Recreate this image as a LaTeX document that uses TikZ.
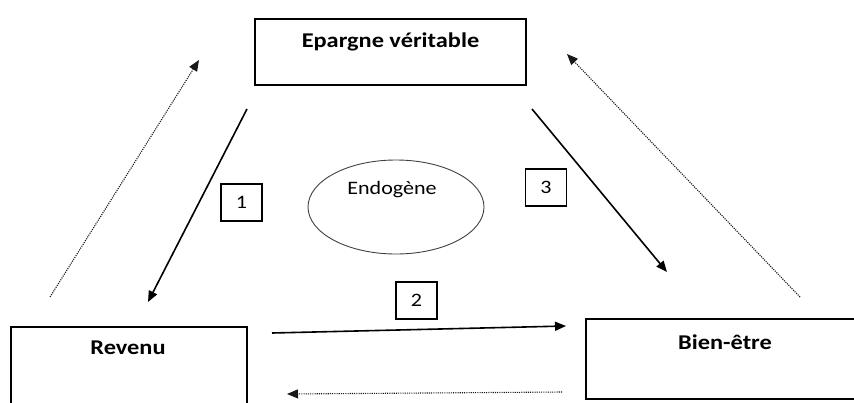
\documentclass[tikz,border=0pt]{standalone}
\usepackage{fontspec}
\setmainfont{Carlito}[FakeStretch=1.16]
\usetikzlibrary{arrows.meta,shapes.geometric}
\newlength{\du}
\setlength{\du}{1pt}

\tikzset{
  bloc/.style={draw, line width=1.8\du, inner sep=0pt},
  numero/.style={draw, line width=1.3\du, minimum width=41\du, minimum height=37\du,
    inner sep=0pt, font=\fontsize{19}{21}\selectfont},
  titre/.style={font=\bfseries\fontsize{21}{23}\selectfont, inner sep=0pt},
  fleche/.style={line width=1.6\du, -{Triangle[length=11pt,width=9pt]}},
  retour/.style={line width=1.1\du, dash pattern=on 1.1pt off 1.1pt, draw=black!90,
    -{Triangle[length=11pt,width=9pt]}},
}

\begin{document}
\begin{tikzpicture}[x=1\du, y=-1\du]
\useasboundingbox (0,0) rectangle (854,402);
% boites
\node[bloc, minimum width=271\du, minimum height=66\du] (epargne) at (390.5,52) {};
\node[titre] (epargnetxt) at (390.5,42) {Epargne véritable};
\node[bloc, minimum width=236\du, minimum height=95\du] (revenu) at (129,374.5) {};
\node[titre] (revenutxt) at (128,348) {Revenu};
\node[bloc, minimum width=284\du, minimum height=80\du] (bienetre) at (728,359) {};
\node[titre] (bienetretxt) at (725,342) {Bien-être};
% ellipse
\node[ellipse, draw=black!75, line width=0.9\du, minimum width=176\du, minimum height=94\du,
  inner sep=0pt] (endo) at (396,207) {};
\node[font=\fontsize{19}{21}\selectfont, inner sep=0pt] (endotxt) at (392,190) {Endogène};
% numeros
\node[numero] (n1) at (241.5,202.5) {1};
\node[numero] (n2) at (416.5,300.5) {2};
\node[numero] (n3) at (546,187.5) {3};
% extremites des fleches
\coordinate (a1s) at (247,109);
\coordinate (a1e) at (148,302);
\coordinate (a2s) at (272,333);
\coordinate (a2e) at (566,326);
\coordinate (a3s) at (532,109);
\coordinate (a3e) at (667,272);
\coordinate (d1s) at (50,297);
\coordinate (d1e) at (199,60);
\coordinate (d2s) at (562,392);
\coordinate (d2e) at (287,394);
\coordinate (d3s) at (800,297);
\coordinate (d3e) at (567,54);
% fleches pleines
\draw[fleche] (a1s) -- (a1e);
\draw[fleche] (a2s) -- (a2e);
\draw[fleche] (a3s) -- (a3e);
% fleches pointillees
\draw[retour] (d1s) -- (d1e);
\draw[retour] (d2s) -- (d2e);
\draw[retour] (d3s) -- (d3e);
\end{tikzpicture}
\end{document}
